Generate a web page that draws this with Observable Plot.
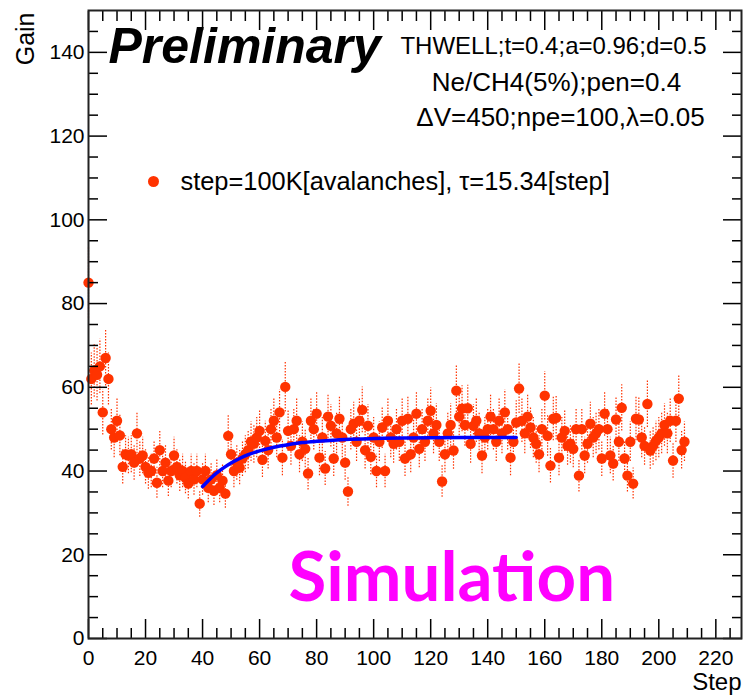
<!DOCTYPE html>
<html><head><meta charset="utf-8">
<script src="https://cdn.jsdelivr.net/npm/d3@7"></script>
<script src="https://cdn.jsdelivr.net/npm/@observablehq/plot@0.6"></script>
<style>body{margin:0;background:#fff}#chart svg{display:block}</style>
</head><body><div id="chart"></div>
<script>
// Gain per simulation step (index = step)
const gain = [
  85, 62, 64, 63, 65, 54, 67, 62, 50, 48,
  52, 48.5, 41, 44, 43.7, 44, 42, 49, 43, 43.7,
  41, 39.6, 40, 43, 37.2, 45, 40, 42, 37.7, 40,
  43.7, 41, 39, 40, 38.4, 37, 40, 38, 40, 32.2,
  38, 40, 36, 38, 35.3, 39, 36, 37.7, 34.6, 48.4,
  44, 40, 42, 40.8, 43, 44, 45, 47, 46.5, 48,
  49.6, 42.7, 47.2, 45, 50, 52, 48, 54, 43.2, 60.1,
  49.6, 46, 50, 52, 44, 47, 45.3, 39.4, 52, 50,
  53.7, 43.2, 48, 40.6, 53, 50.8, 43, 49, 52.5, 48,
  42, 35.1, 50, 51.3, 47, 52, 54.6, 45, 50.8, 43.4,
  48, 40, 47, 50.4, 40, 52, 48, 46.5, 50, 47,
  52, 43, 52.5, 44, 48, 53.7, 45.3, 50, 47, 52,
  54.4, 49, 51, 47, 37.5, 44, 49, 51, 44.9, 59.2,
  53, 54.9, 51, 55, 46.5, 50.8, 52, 49, 43.7, 48,
  50, 53, 50, 47, 52, 49, 54, 50, 43.2, 47,
  51.6, 59.7, 52, 49, 53, 50.4, 48, 46.5, 44, 50,
  58, 48.4, 41.3, 52.5, 52.7, 43.2, 48, 49.6, 46, 46.5,
  45.3, 50, 38.9, 50, 43.7, 46.5, 51.3, 48, 49, 50,
  43, 53.7, 50, 43.7, 41.8, 52.3, 47, 55.1, 43, 38.9,
  47, 37, 52.5, 52.3, 48, 46, 56, 44.9, 46, 47.2,
  48, 49, 51, 49, 52, 42.5, 52, 57.3, 45, 47
];
const relErr = 0.1;

// Fit curve
const fitStep = [40, 42, 44, 46, 48, 50, 53, 56, 60, 65, 70, 75, 80, 90, 100, 110, 120, 135, 150];
const fitGain = [36.3, 37.7, 39.0, 40.1, 41.05, 41.9, 43.0, 43.9, 44.8, 45.7, 46.3, 46.8, 47.1, 47.55, 47.75, 47.9, 47.95, 48.0, 48.0];

const xMajor = [0, 20, 40, 60, 80, 100, 120, 140, 160, 180, 200, 220];
const xMinor = [5,10,15,25,30,35,45,50,55,65,70,75,85,90,95,105,110,115,125,130,135,145,150,155,165,170,175,185,190,195,205,210,215,225];
const yMajor = [0, 20, 40, 60, 80, 100, 120, 140];
const yMinor = [5,10,15,25,30,35,45,50,55,65,70,75,85,90,95,105,110,115,125,130,135,145];

const infoLines = ["THWELL;t=0.4;a=0.96;d=0.5", "Ne/CH4(5%);pen=0.4", "ΔV=450;npe=100,λ=0.05"];
const legendText = "step=100K[avalanches], τ=15.34[step]";

const RED = "#ff3300";
const data = gain.map((g, i) => ({step: i, gain: g, lo: g * (1 - relErr), hi: g * (1 + relErr)}));
const fit = fitStep.map((s, i) => ({step: s, gain: fitGain[i]}));

const MAJ = -19, MIN = -10;
const tickAxis = (fn, ticks, anchor, size) => fn({ticks, anchor, tickSize: size, fill: "none", label: null, stroke: "#000", strokeWidth: 1.5});

const chart = Plot.plot({
  width: 743, height: 696,
  marginLeft: 88, marginRight: 2, marginTop: 10, marginBottom: 58,
  style: {fontFamily: "'Liberation Sans', Arial, sans-serif", fontSize: "20px", background: "#fff", color: "#000"},
  x: {domain: [0, 229]},
  y: {domain: [0, 150]},
  marks: [
    Plot.ruleX(data, {x: "step", y1: "lo", y2: "hi", stroke: RED, strokeWidth: 1.2, strokeDasharray: "1.5,1.5"}),
    Plot.dot(data, {x: "step", y: "gain", r: 5.2, fill: RED}),
    Plot.line(fit, {x: "step", y: "gain", stroke: "#0000ff", strokeWidth: 3.5, curve: "natural"}),
    tickAxis(Plot.axisX, xMajor, "bottom", MAJ),
    tickAxis(Plot.axisX, xMinor, "bottom", MIN),
    tickAxis(Plot.axisX, xMajor, "top", MAJ),
    tickAxis(Plot.axisX, xMinor, "top", MIN),
    tickAxis(Plot.axisY, yMajor, "left", MAJ),
    tickAxis(Plot.axisY, yMinor, "left", MIN),
    tickAxis(Plot.axisY, yMajor, "right", MAJ),
    tickAxis(Plot.axisY, yMinor, "right", MIN),
    Plot.axisX({ticks: xMajor, anchor: "bottom", tickSize: 0, tickPadding: 12, label: null, fontSize: 21}),
    Plot.axisY({ticks: yMajor, anchor: "left", tickSize: 0, tickPadding: 4, label: null, fontSize: 21}),
    Plot.frame({stroke: "#222", strokeWidth: 2}),
    Plot.text(["Gain"], {text: d => d, frameAnchor: "top-left", rotate: -90, textAnchor: "end", lineAnchor: "middle", dx: -63, dy: 2, fontSize: 25}),
    Plot.text(["Step"], {text: d => d, frameAnchor: "bottom-right", textAnchor: "end", lineAnchor: "middle", dx: 0, dy: 44, fontSize: 24}),
    Plot.text(["Preliminary"], {text: d => d, frameAnchor: "top-left", textAnchor: "start", lineAnchor: "middle", dx: 20, dy: 36, fontSize: 50, fontWeight: "bold", fontStyle: "italic"}),
    Plot.text([infoLines[0]], {text: d => d, frameAnchor: "top-left", textAnchor: "middle", lineAnchor: "middle", dx: 465, dy: 36, fontSize: 24}),
    Plot.text([infoLines[1]], {text: d => d, frameAnchor: "top-left", textAnchor: "middle", lineAnchor: "middle", dx: 468, dy: 72, fontSize: 26}),
    Plot.text([infoLines[2]], {text: d => d, frameAnchor: "top-left", textAnchor: "middle", lineAnchor: "middle", dx: 472, dy: 107, fontSize: 26}),
    Plot.dot([legendText], {frameAnchor: "top-left", dx: 65, dy: 171, r: 5.5, fill: RED}),
    Plot.text([legendText], {text: d => d, frameAnchor: "top-left", textAnchor: "start", lineAnchor: "middle", dx: 92, dy: 171, fontSize: 25.4}),
    Plot.text(["Simulation"], {text: d => d, frameAnchor: "bottom-left", textAnchor: "start", lineAnchor: "middle", dx: 200, dy: -60, fontSize: 69, fontWeight: "bold", fill: "#ff00ff", fontFamily: "Lato, 'Liberation Sans', sans-serif"})
  ]
});
document.getElementById("chart").appendChild(chart);
</script>
</body></html>
